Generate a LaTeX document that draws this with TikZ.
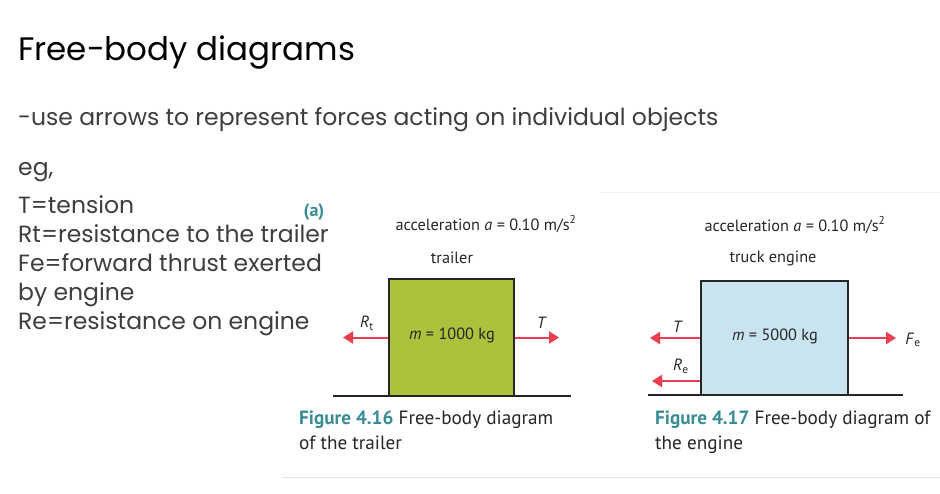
\documentclass[tikz,border=0pt]{standalone}
\usepackage{fontspec}
\setmainfont{Poppins}
\newfontfamily\bookfont{PT Sans}
\usetikzlibrary{arrows.meta}
\definecolor{txtgray}{RGB}{62,62,62}
\definecolor{teal1}{RGB}{58,140,148}
\definecolor{olivebox}{RGB}{170,194,60}
\definecolor{bluebox}{RGB}{200,228,238}
\definecolor{forcered}{RGB}{232,62,78}
\definecolor{rulegray}{RGB}{225,225,225}
\tikzset{
  lefttext/.style={anchor=base west, inner sep=0pt, text=txtgray, font=\fontsize{23.5}{28}\selectfont},
  booktext/.style={inner sep=0pt, text=black!85, font=\bookfont\fontsize{16.3}{19}\selectfont},
  captext/.style={anchor=base west, inner sep=0pt, text=black!85, font=\bookfont\fontsize{19.2}{22}\selectfont},
  bodybox/.style={draw=black!85, line width=1.3pt, inner sep=0pt},
  ground/.style={draw=black!85, line width=1.4pt},
  force/.style={draw=forcered, line width=2pt, -{Triangle[length=10pt,width=12pt]}},
}
\begin{document}
\begin{tikzpicture}[x=1pt,y=-1pt]
\useasboundingbox[fill=white] (0,0) rectangle (940,493);

% left text
\node[anchor=base west, inner sep=0pt, text=black, font=\fontsize{32.5}{38}\selectfont] (title) at (18,60) {Free-body diagrams};
\node[lefttext] (intro) at (18,125) {-use arrows to represent forces acting on individual objects};
\node[lefttext] (eg) at (18,175) {eg,};
\node[lefttext] (l1) at (18,213) {T=tension};
\node[lefttext] (l2) at (18,242) {Rt=resistance to the trailer};
\node[lefttext] (l3) at (18,271) {Fe=forward thrust exerted};
\node[lefttext] (l4) at (18,300) {by engine};
\node[lefttext] (l5) at (18,329) {Re=resistance on engine};

% faint rules
\draw[rulegray, line width=0.8pt] (282,477) -- (940,477);
\draw[rulegray!50, line width=0.8pt] (600,192) -- (940,192);

% (a)
\node[anchor=base, inner sep=0pt, text=teal1, font=\bookfont\bfseries\fontsize{18}{20}\selectfont] (alabel) at (314,216) {(a)};

% ---------- Figure 4.16 trailer ----------
\node[booktext] (acc1) at (486,224) {acceleration \textit{a} = 0.10 m/s\textsuperscript{2}};
\node[booktext] (trl) at (452,258) {trailer};
\node[bodybox, fill=olivebox, minimum width=125pt, minimum height=117pt] (tbox) at (451.5,337.5) {};
\node[booktext] (m1) at (452,335) {\textit{m} = 1000 kg};
\coordinate (gl1) at (333,396);
\coordinate (gr1) at (571,396);
\draw[ground] (gl1) -- (gr1);
\coordinate (rtend) at (343,337.5);
\coordinate (tend) at (559,337.5);
\draw[force] (tbox.west) -- (rtend);
\draw[force] (tbox.east) -- (tend);
\node[booktext] (rtlab) at (367,323) {\textit{R}\textsubscript{t}};
\node[booktext] (tlab1) at (542,323) {\textit{T}};

\node[captext] (cap1a) at (299,424) {\textcolor{teal1}{\bfseries Figure 4.16} Free-body diagram};
\node[captext] (cap1b) at (299,449) {of the trailer};

% ---------- Figure 4.17 engine ----------
\node[booktext] (acc2) at (795,225) {acceleration \textit{a} = 0.10 m/s\textsuperscript{2}};
\node[booktext] (trk) at (773,258) {truck engine};
\node[bodybox, fill=bluebox, minimum width=147pt, minimum height=114pt] (ebox) at (774.5,338) {};
\node[booktext] (m2) at (775,336) {\textit{m} = 5000 kg};
\coordinate (gl2) at (648,395);
\coordinate (gr2) at (903,395);
\draw[ground] (gl2) -- (gr2);
\coordinate (t2end) at (650,338);
\coordinate (reend) at (652,381);
\coordinate (feend) at (896,338);
\draw[force] (ebox.west) -- (t2end);
\draw[force] (ebox.west |- reend) -- (reend);
\draw[force] (ebox.east) -- (feend);
\node[booktext] (tlab2) at (678,327) {\textit{T}};
\node[booktext] (relab) at (681,366) {\textit{R}\textsubscript{e}};
\node[booktext] (felab) at (913,340) {\textit{F}\textsubscript{e}};

\node[captext] (cap2a) at (655,424) {\textcolor{teal1}{\bfseries Figure 4.17} Free-body diagram of};
\node[captext] (cap2b) at (655,449) {the engine};
\end{tikzpicture}
\end{document}
